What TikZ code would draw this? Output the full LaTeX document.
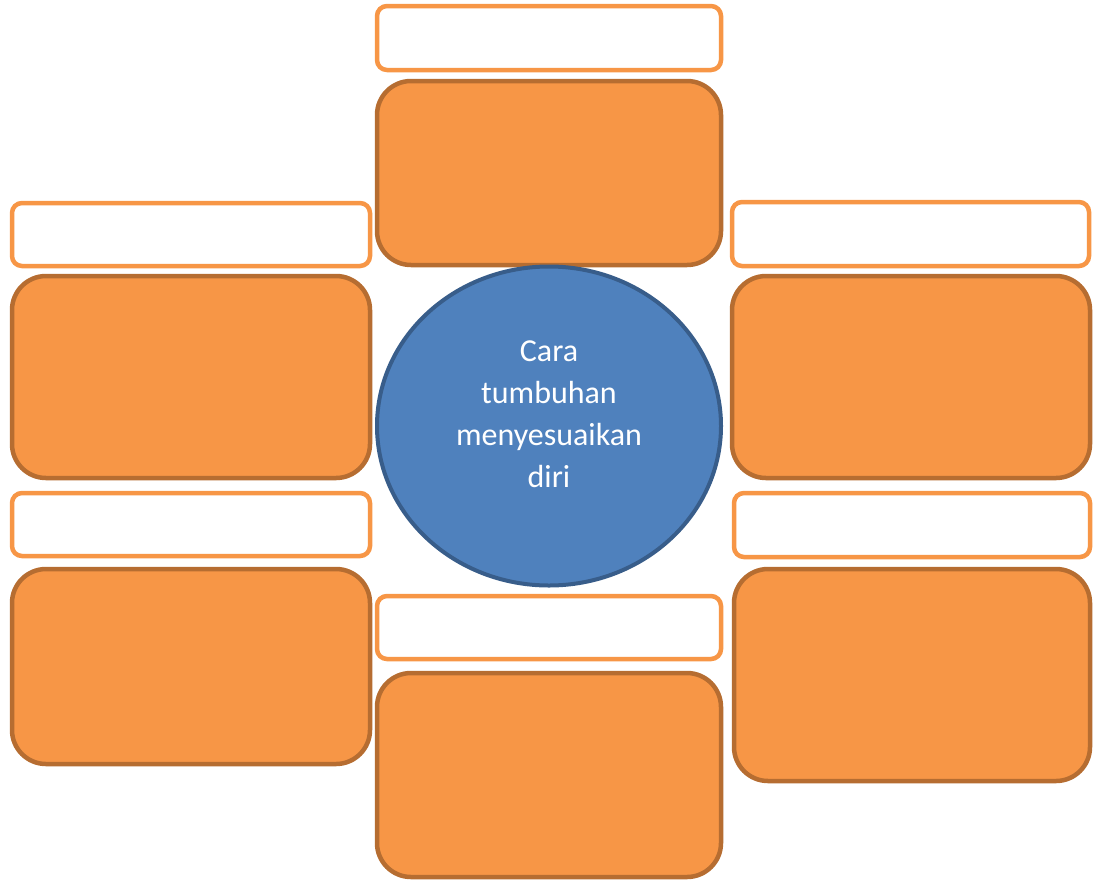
\documentclass[tikz,border=0pt]{standalone}
\usepackage{fontspec}
\setmainfont{Carlito}
\usetikzlibrary{shapes.geometric}
\definecolor{orfill}{HTML}{F79646}
\definecolor{ordark}{HTML}{B66D31}
\definecolor{blfill}{HTML}{4F81BD}
\definecolor{bldark}{HTML}{385D8A}
\tikzset{
  wbox/.style={draw=orfill, fill=white, line width=4.5pt, rounded corners=10pt, inner sep=0pt},
  obox/.style={draw=ordark, fill=orfill, line width=4.5pt, rounded corners=34pt, inner sep=0pt},
  center ellipse/.style={ellipse, draw=bldark, fill=blfill, line width=4pt, inner sep=0pt},
}
\begin{document}
\begin{tikzpicture}[x=1pt,y=-1pt]
\useasboundingbox (0,0) rectangle (1094,879);
% top
\node[wbox, minimum width=344pt, minimum height=64pt] (tw) at (549,38) {};
\node[obox, minimum width=344pt, minimum height=184pt] (to) at (549,173) {};
% left
\node[wbox, minimum width=358pt, minimum height=63pt] (lw1) at (191,234.5) {};
\node[obox, minimum width=358pt, minimum height=202pt] (lo1) at (191,377) {};
\node[wbox, minimum width=358pt, minimum height=63pt] (lw2) at (191,524.5) {};
\node[obox, minimum width=358pt, minimum height=195pt] (lo2) at (191,666.5) {};
% right
\node[wbox, minimum width=357pt, minimum height=64pt] (rw1) at (910.5,234) {};
\node[obox, minimum width=358pt, minimum height=202pt] (ro1) at (911,377) {};
\node[wbox, minimum width=356pt, minimum height=64pt] (rw2) at (912,525) {};
\node[obox, minimum width=356pt, minimum height=212pt] (ro2) at (912,675) {};
% bottom
\node[wbox, minimum width=344pt, minimum height=63pt] (bw) at (549,627.5) {};
\node[obox, minimum width=344pt, minimum height=204pt] (bo) at (549,775) {};
% centre
\node[center ellipse, minimum width=344pt, minimum height=319pt] (c) at (549,426) {};
\node[text=white, align=center, font=\fontsize{32}{42}\selectfont, inner sep=0pt] (ct) at (549,414)
  {Cara\\tumbuhan\\menyesuaikan\\diri};
\end{tikzpicture}
\end{document}
